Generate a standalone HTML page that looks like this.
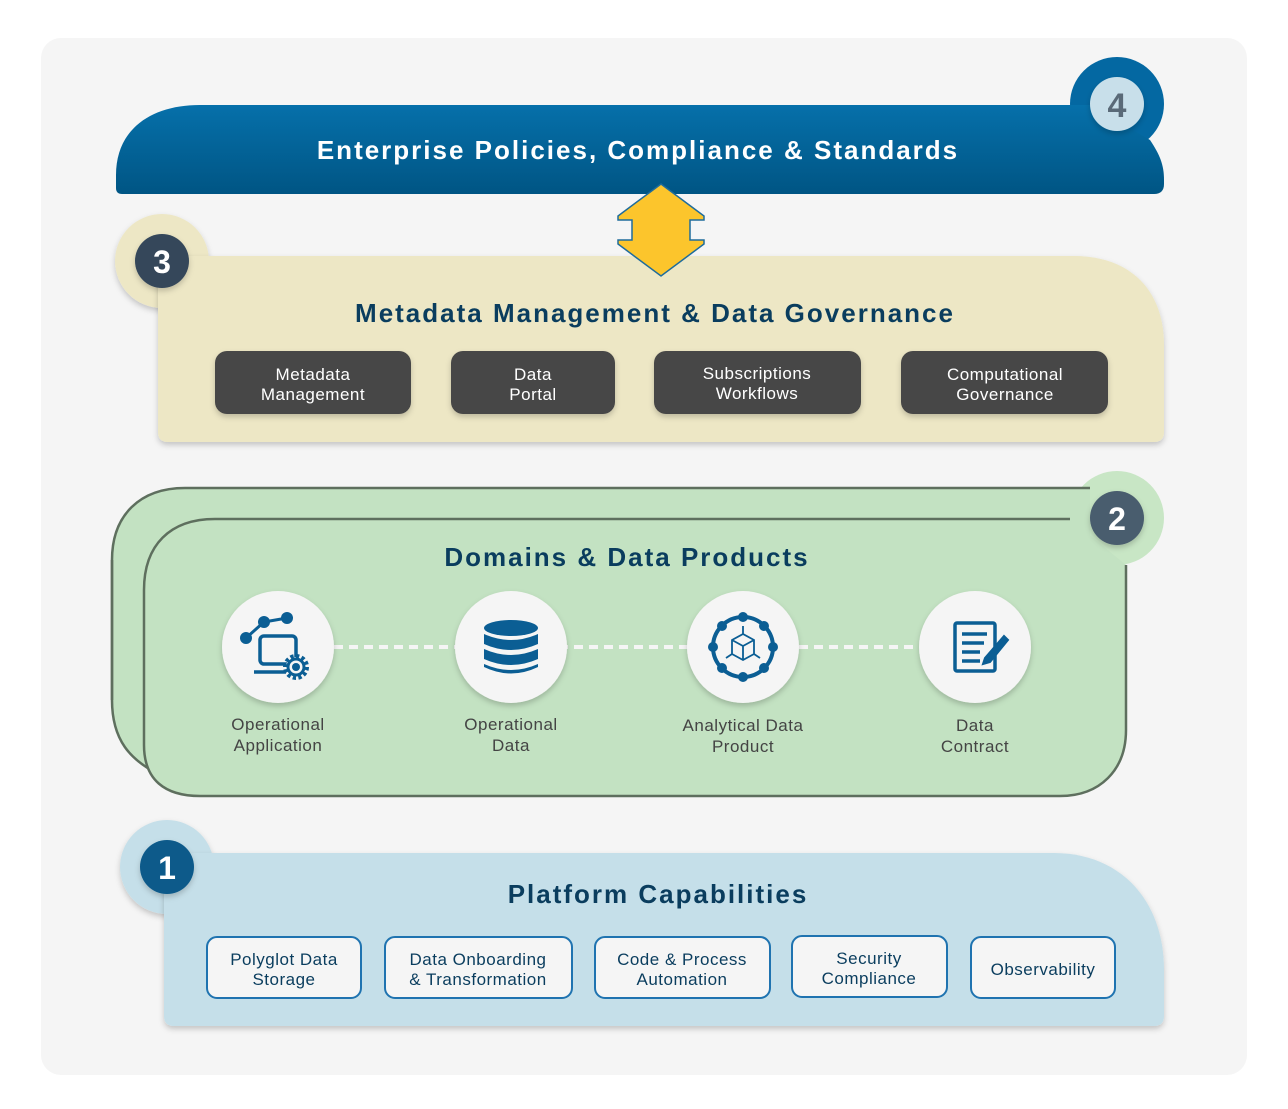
<!DOCTYPE html>
<html><head><meta charset="utf-8"><style>
html,body{margin:0;padding:0;background:#fff;}
svg{display:block;}
text{font-family:"Liberation Sans",sans-serif;}
</style></head><body>
<svg width="1288" height="1109" viewBox="0 0 1288 1109" xmlns="http://www.w3.org/2000/svg">
<defs>
<linearGradient id="blu" x1="0" y1="0" x2="0" y2="1"><stop offset="0" stop-color="#0670aa"/><stop offset="1" stop-color="#005584"/></linearGradient>
<filter id="sh" x="-20%" y="-20%" width="140%" height="150%"><feDropShadow dx="0" dy="3" stdDeviation="3" flood-color="#000" flood-opacity="0.2"/></filter>
</defs>
<rect x="41" y="38" width="1206" height="1037" rx="20" fill="#f5f5f5"/>

<!-- Layer 4 -->
<circle cx="1117" cy="104" r="47" fill="#0468a2"/>
<path d="M116,188 L116,175 C116,130 150,105 200,105 L1090,105 L1150,140 C1160,155 1164,165 1164,180 L1164,184 Q1164,194 1154,194 L122,194 Q116,194 116,188 Z" fill="url(#blu)"/>
<circle cx="1117" cy="104" r="27" fill="#c8dfea" filter="url(#sh)"/>
<text x="1117" y="117" text-anchor="middle" font-size="34" font-weight="bold" fill="#5a6a78">4</text>
<text x="638" y="159" text-anchor="middle" font-size="26" font-weight="bold" fill="#fff" letter-spacing="2">Enterprise Policies, Compliance &amp; Standards</text>

<!-- Layer 3 -->
<circle cx="162" cy="261" r="47" fill="#ede7c5" filter="url(#sh)"/>
<path d="M158,276 Q158,256 178,256 L1074,256 C1130,256 1164,290 1164,345 L1164,432 Q1164,442 1154,442 L168,442 Q158,442 158,432 Z" fill="#ede7c5" filter="url(#sh)"/>
<circle cx="162" cy="261" r="27" fill="#34475a" filter="url(#sh)"/>
<text x="162" y="273" text-anchor="middle" font-size="32" font-weight="bold" fill="#fff">3</text>
<text x="655" y="322" text-anchor="middle" font-size="26" font-weight="bold" fill="#0a3d5e" letter-spacing="2">Metadata Management &amp; Data Governance</text>
<g font-size="17" fill="#fff" text-anchor="middle" letter-spacing="0.5">
<rect x="215" y="351" width="196" height="63" rx="12" fill="#464646" filter="url(#sh)"/>
<text x="313" y="380">Metadata</text><text x="313" y="400">Management</text>
<rect x="451" y="351" width="164" height="63" rx="12" fill="#464646" filter="url(#sh)"/>
<text x="533" y="380">Data</text><text x="533" y="400">Portal</text>
<rect x="654" y="351" width="207" height="63" rx="12" fill="#464646" filter="url(#sh)"/>
<text x="757" y="379">Subscriptions</text><text x="757" y="399">Workflows</text>
<rect x="901" y="351" width="207" height="63" rx="12" fill="#464646" filter="url(#sh)"/>
<text x="1005" y="380">Computational</text><text x="1005" y="400">Governance</text>
</g>

<!-- Arrow -->
<path d="M661,184 L704,216 L704,220 L690,220 L690,240 L704,240 L704,244 L661,276 L618,244 L618,240 L632,240 L632,220 L618,220 L618,216 Z" fill="#fcc52c" stroke="#1e6c9c" stroke-width="1.5"/>

<!-- Layer 2 -->
<circle cx="1117" cy="518" r="47" fill="#c8e6c5"/>
<path d="M112,560 C112,515 140,488 185,488 L1090,488 L1090,775 L160,775 C130,760 112,740 112,700 Z" fill="#c3e2c2" stroke="none"/>
<path d="M112,700 L112,560 C112,515 140,488 185,488 L1090,488" fill="none" stroke="#5e6f5e" stroke-width="2.5"/>
<path d="M112,560 L112,700 C112,740 130,760 160,775" fill="none" stroke="#5e6f5e" stroke-width="2.5"/>
<path d="M1070,519 L215,519 C170,519 144,545 144,590 L144,745 C144,780 165,796 200,796 L1060,796 C1100,796 1126,770 1126,730 L1126,565" fill="#c3e2c2" stroke="#5e6f5e" stroke-width="2.5"/>
<circle cx="1117" cy="518" r="27" fill="#4a5d6e" filter="url(#sh)"/>
<text x="1117" y="530" text-anchor="middle" font-size="32" font-weight="bold" fill="#fff">2</text>
<text x="627" y="566" text-anchor="middle" font-size="26" font-weight="bold" fill="#0a3d5e" letter-spacing="2">Domains &amp; Data Products</text>
<line x1="334" y1="647" x2="919" y2="647" stroke="#f5f5f5" stroke-width="4" stroke-dasharray="9,6"/>
<g fill="#f5f5f5" filter="url(#sh)">
<circle cx="278" cy="647" r="56"/><circle cx="511" cy="647" r="56"/><circle cx="743" cy="647" r="56"/><circle cx="975" cy="647" r="56"/>
</g>
<g fill="#0b5e94" stroke="#0b5e94">
<line x1="246" y1="638" x2="264" y2="622" stroke-width="3"/><line x1="264" y1="622" x2="287" y2="618" stroke-width="3"/>
<circle cx="246" cy="638" r="6" stroke="none"/><circle cx="264" cy="622" r="6" stroke="none"/><circle cx="287" cy="618" r="6" stroke="none"/>
<rect x="260" y="636" width="36" height="28" rx="4" fill="none" stroke-width="3.5"/>
<line x1="254" y1="672" x2="286" y2="672" stroke-width="3.5"/>
<circle cx="296" cy="667" r="10" fill="#f5f5f5" stroke-width="6" stroke-dasharray="3,2.2"/>
<circle cx="296" cy="667" r="8" fill="#f5f5f5" stroke-width="3"/>
<circle cx="296" cy="667" r="4" stroke="none"/>
</g>
<g fill="#0b5e94">
<ellipse cx="511" cy="628" rx="27" ry="8"/>
<path d="M484,634 Q511,646 538,634 L538,644 Q511,656 484,644 Z"/>
<path d="M484,649 Q511,661 538,649 L538,659 Q511,671 484,659 Z"/>
<path d="M484,664 Q511,676 538,664 L538,667 Q511,680 484,667 Z"/>
</g>
<g fill="#0b5e94" stroke="#0b5e94">
<circle cx="743" cy="647" r="30" fill="none" stroke-width="4"/>
<circle cx="743" cy="617" r="5" stroke="none"/><circle cx="743" cy="677" r="5" stroke="none"/>
<circle cx="713" cy="647" r="5" stroke="none"/><circle cx="773" cy="647" r="5" stroke="none"/>
<circle cx="722" cy="626" r="5" stroke="none"/><circle cx="764" cy="626" r="5" stroke="none"/>
<circle cx="722" cy="668" r="5" stroke="none"/><circle cx="764" cy="668" r="5" stroke="none"/>
<path d="M732,640 L743,634 L754,640 L754,654 L743,660 L732,654 Z M732,640 L743,646 L754,640 M743,646 L743,660 M743,634 L743,626 M732,654 L726,658 M754,654 L760,658" fill="none" stroke-width="1.8"/>
</g>
<g fill="none" stroke="#0b5e94" stroke-width="3.5">
<rect x="955" y="623" width="40" height="48" rx="2"/>
<line x1="962" y1="634" x2="987" y2="634"/><line x1="962" y1="643" x2="984" y2="643"/><line x1="962" y1="652" x2="980" y2="652"/><line x1="962" y1="661" x2="980" y2="661"/>
<path d="M985,658 L1004,636 L1008,640 L990,662 L983,664 Z" fill="#0b5e94" stroke-width="2"/>
</g>
<g font-size="17" fill="#444" text-anchor="middle" letter-spacing="0.5">
<text x="278" y="730">Operational</text><text x="278" y="751">Application</text>
<text x="511" y="730">Operational</text><text x="511" y="751">Data</text>
<text x="743" y="731">Analytical Data</text><text x="743" y="752">Product</text>
<text x="975" y="731">Data</text><text x="975" y="752">Contract</text>
</g>

<!-- Layer 1 -->
<circle cx="167" cy="867" r="47" fill="#c5dfe9" filter="url(#sh)"/>
<path d="M164,880 Q164,853 190,853 L1054,853 C1120,853 1164,900 1164,970 L1164,1016 Q1164,1026 1154,1026 L174,1026 Q164,1026 164,1016 Z" fill="#c5dfe9" filter="url(#sh)"/>
<circle cx="167" cy="867" r="27" fill="#0b5a8a" filter="url(#sh)"/>
<text x="167" y="879" text-anchor="middle" font-size="32" font-weight="bold" fill="#fff">1</text>
<text x="658" y="903" text-anchor="middle" font-size="26" font-weight="bold" fill="#0a3d5e" letter-spacing="2">Platform Capabilities</text>
<g font-size="17" fill="#0a3d5e" text-anchor="middle" letter-spacing="0.5">
<g fill="#f5f5f5" stroke="#1f73b0" stroke-width="2">
<rect x="207" y="937" width="154" height="61" rx="10"/>
<rect x="385" y="937" width="187" height="61" rx="10"/>
<rect x="595" y="937" width="175" height="61" rx="10"/>
<rect x="792" y="936" width="155" height="61" rx="10"/>
<rect x="971" y="937" width="144" height="61" rx="10"/>
</g>
<text x="284" y="965">Polyglot Data</text><text x="284" y="985">Storage</text>
<text x="478" y="965">Data Onboarding</text><text x="478" y="985">&amp; Transformation</text>
<text x="682" y="965">Code &amp; Process</text><text x="682" y="985">Automation</text>
<text x="869" y="964">Security</text><text x="869" y="984">Compliance</text>
<text x="1043" y="975">Observability</text>
</g>
</svg>
</body></html>
